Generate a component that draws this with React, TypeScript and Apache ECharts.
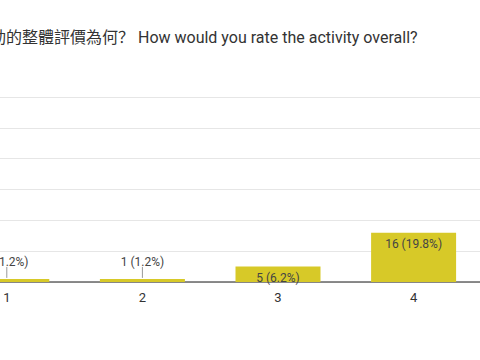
import React, { useEffect, useRef } from "react";
import * as echarts from "echarts";

const categories = ["1", "2", "3", "4", "5"];
const counts = [1, 1, 5, 16, 58];
const percents = ["1.2%", "1.2%", "6.2%", "19.8%", "71.6%"];
const yTicks = [0, 10, 20, 30, 40, 50, 60];
const titleText = "動的整體評價為何？ How would you rate the activity overall?";

const SHIFT = 100;
const SMALL = 3;

export default function App() {
  const ref = useRef<HTMLDivElement>(null);
  useEffect(() => {
    if (!ref.current) return;
    const chart = echarts.init(ref.current, undefined, { renderer: "svg" });
    const data = counts.map((v) => {
      const small = v < SMALL;
      return {
        value: v,
        label: small
          ? { position: "top", distance: 11 }
          : { position: "insideTop", distance: 5 },
      };
    });
    const leaderData = counts.map((v, i) => (v < SMALL ? [i, v] : [i, "-"]));
    chart.setOption({
      animation: false,
      graphic: [
        {
          type: "text",
          left: SHIFT - 10,
          top: 29,
          style: {
            text: titleText,
            font: '16px Roboto, "Noto Sans CJK SC", sans-serif',
            fill: "#333333",
          },
        },
      ],
      grid: { left: SHIFT - 61, width: 678, top: 97, height: 185 },
      xAxis: {
        type: "category",
        data: categories,
        axisTick: { show: false },
        axisLine: { lineStyle: { color: "#666666", width: 1.5 } },
        axisLabel: {
          color: "#333333",
          fontSize: 13,
          fontFamily: "Roboto, Arial, sans-serif",
          margin: 9,
        },
      },
      yAxis: {
        type: "value",
        min: yTicks[0],
        max: yTicks[yTicks.length - 1],
        interval: 10,
        axisLabel: { show: false },
        axisLine: { show: false },
        axisTick: { show: false },
        splitLine: { lineStyle: { color: "#e6e6e6", width: 1 } },
      },
      series: [
        {
          type: "bar",
          data,
          barWidth: 85,
          itemStyle: { color: "#d7c928" },
          label: {
            show: true,
            color: "#444444",
            fontSize: 12,
            fontFamily: "Roboto, Arial, sans-serif",
            formatter: (p: any) => `${counts[p.dataIndex]} (${percents[p.dataIndex]})`,
          },
        },
        {
          type: "custom",
          data: leaderData,
          silent: true,
          z: 5,
          renderItem: (params: any, api: any) => {
            const v = api.value(1);
            if (isNaN(v)) return null;
            const p = api.coord([api.value(0), v]);
            return {
              type: "line",
              shape: { x1: p[0], y1: p[1] - 1, x2: p[0], y2: p[1] - 12 },
              style: { stroke: "#999999", lineWidth: 1 },
            };
          },
        },
      ],
    });
    return () => chart.dispose();
  }, []);
  return (
    <div
      style={{
        position: "fixed",
        left: 0,
        top: 0,
        width: 480,
        height: 360,
        overflow: "hidden",
        background: "#ffffff",
      }}
    >
      <div
        ref={ref}
        style={{ position: "absolute", left: -SHIFT, top: 0, width: 800, height: 360 }}
      />
    </div>
  );
}
